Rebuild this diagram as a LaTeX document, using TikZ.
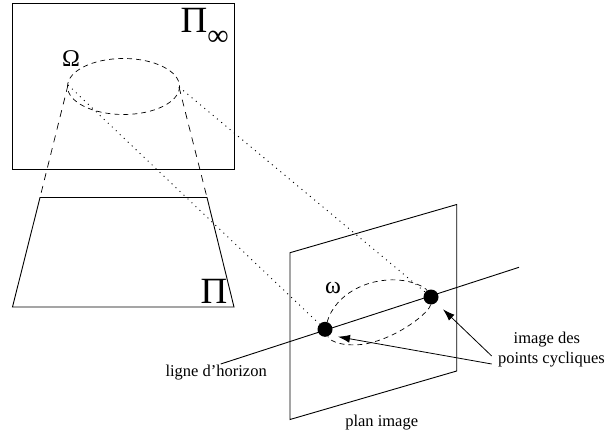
\documentclass[tikz,border=0pt]{standalone}
\usepackage{fontspec}
\setmainfont{Liberation Serif}
\usetikzlibrary{arrows.meta}

\begin{document}
\begin{tikzpicture}[
  x=1pt,y=-1pt,
  plane/.style={draw,line width=0.9pt},
  cone/.style={line width=0.7pt,dash pattern=on 7pt off 6pt},
  conic/.style={line width=0.7pt,dash pattern=on 5pt off 4pt},
  ray/.style={line width=0.9pt,dash pattern=on 1pt off 4.5pt},
  ar/.style={-{Latex[length=12pt,width=8pt]},line width=0.8pt},
  lab/.style={inner sep=0pt,align=center,font=\fontsize{16.5}{20.5}\selectfont},
  sym/.style={inner sep=0pt,font=\fontsize{37}{40}\selectfont},
  pt/.style={circle,fill=black,minimum size=15pt,inner sep=0pt}]

\useasboundingbox (0,0) rectangle (605,436);

% plane at infinity and ground plane
\draw[plane] (12.5,3.5) rectangle (234,169.5);
\draw[plane] (40,197.5) -- (207,197.5) -- (234,307) -- (12.5,307) -- cycle;

% absolute conic
\coordinate (oa) at (68,85);
\coordinate (ob) at (179,87);
\coordinate (ga) at (40,197.5);
\coordinate (gb) at (207,197.5);
\draw[conic] (123.5,86.5) ellipse [x radius=56,y radius=28];
\draw[cone] (oa) -- (ga);
\draw[cone] (ob) -- (gb);

% image plane
\draw[plane] (290,252.7) -- (456.7,204.5) -- (456.7,371) -- (290,419.5) -- cycle;

\node[pt] (pa) at (325,329.3) {};
\node[pt] (pb) at (431,297) {};
\coordinate (ha) at (220.7,364);
\coordinate (hb) at (519,267.3);
\draw[line width=0.9pt] (ha) -- (hb);

% image of the conic
\draw[conic] (pa) .. controls (335,295) and (366,278) .. (398,280)
  .. controls (413,281) and (425,287) .. (pb)
  .. controls (430,312) and (398,338) .. (365,344)
  .. controls (345,347) and (330,342) .. (pa);

\draw[ray] (oa) -- (pa);
\draw[ray] (ob) -- (pb);

% labels
\node[sym] (pinf) at (194,20) {Π};
\node[sym,font=\fontsize{30}{32}\selectfont] (inf) at (218,38) {∞};
\node[sym] (pig) at (214,291) {Π};
\node[sym,font=\fontsize{24}{26}\selectfont] (om) at (71,59) {Ω};
\node[sym,font=\fontsize{24}{26}\selectfont] (omi) at (333,288) {ω};
\node[lab,anchor=east] (hor) at (267,373) {ligne d’horizon};
\node[lab] (plan) at (381.7,422.3) {plan image};
\node[lab,anchor=east] (cyc) at (605,349.5) {image des\hspace*{9pt}\\points cycliques};

\coordinate (ca) at (491.7,356);
\coordinate (cb) at (491.7,364);
\coordinate (ta) at (443,309.3);
\coordinate (tb) at (338,336.7);
\draw[ar] (ca) -- (ta);
\draw[ar] (cb) -- (tb);
\end{tikzpicture}
\end{document}
